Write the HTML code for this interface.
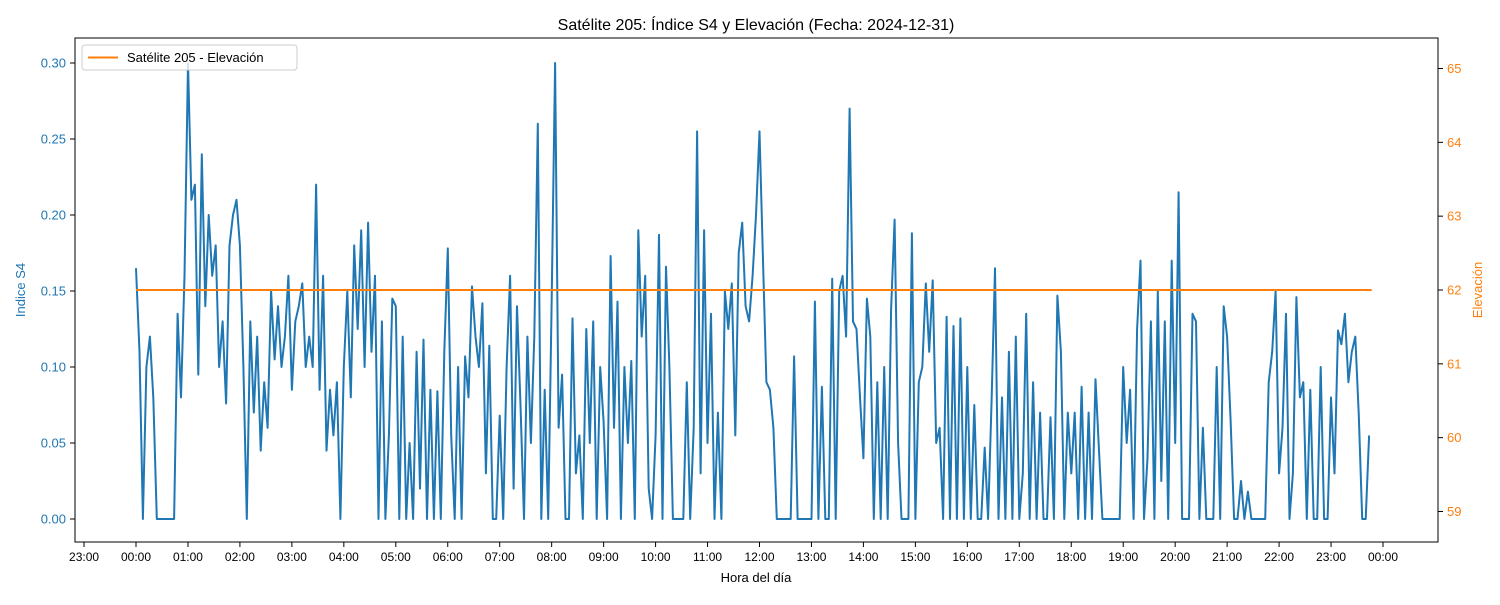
<!DOCTYPE html>
<html><head><meta charset="utf-8"><style>
body{margin:0;background:#fff;}
svg{font-family:"Liberation Sans","DejaVu Sans",sans-serif;}
</style></head><body>
<svg id="chart" width="1500" height="600">
<rect x="0" y="0" width="1500" height="600" fill="#fff"/>
<text x="756" y="30" font-size="16" text-anchor="middle">Satélite 205: Índice S4 y Elevación (Fecha: 2024-12-31)</text>
<text x="756" y="582" font-size="13" text-anchor="middle">Hora del día</text>
<text x="25" y="290" font-size="13" fill="#1f77b4" text-anchor="middle" transform="rotate(-90 25 290)">Indice S4</text>
<text x="1482" y="290" font-size="13" fill="#ff7f0e" text-anchor="middle" transform="rotate(-90 1482 290)">Elevación</text>
<g id="xticks"></g><g id="yl"></g><g id="yr"></g>
<g id="series"></g>
<rect x="75" y="38" width="1363" height="504" fill="none" stroke="#000" stroke-width="1"/>
<g>
<rect x="82" y="45" width="215" height="25" rx="3" fill="#fff" fill-opacity="0.8" stroke="#ccc"/>
<line x1="88" y1="57.5" x2="118" y2="57.5" stroke="#ff7f0e" stroke-width="2"/>
<text x="127" y="62" font-size="13">Satélite 205 - Elevación</text>
</g>
</svg>
<script>
const s4Values = [
0.165,0.11,0,0.1,0.12,0.08,0,0,0,0,0,0,0.135,0.08,0.16,
0.3,0.21,0.22,0.095,0.24,0.14,0.2,0.16,0.18,0.1,0.13,0.076,0.18,0.2,0.21,
0.18,0.1,0,0.13,0.07,0.12,0.045,0.09,0.06,0.15,0.105,0.14,0.1,0.12,0.16,
0.085,0.13,0.14,0.155,0.1,0.12,0.1,0.22,0.085,0.16,0.045,0.085,0.055,0.09,0,
0.1,0.15,0.08,0.18,0.125,0.19,0.1,0.195,0.11,0.16,0,0.13,0,0.055,0.145,
0.14,0,0.12,0,0.05,0,0.11,0.02,0.118,0,0.085,0,0.084,0,0.11,
0.178,0.055,0,0.1,0,0.107,0.08,0.153,0.12,0.1,0.142,0.03,0.114,0,0,
0.068,0,0.1,0.16,0.02,0.14,0.075,0,0.12,0.05,0.12,0.26,0,0.085,0,
0.145,0.3,0.06,0.095,0,0,0.132,0.03,0.055,0,0.125,0.05,0.13,0,0.1,
0.064,0,0.173,0.06,0.143,0,0.1,0.05,0.104,0,0.19,0.12,0.16,0.02,0,
0.055,0.187,0,0.166,0.1,0,0,0,0,0.09,0,0.06,0.255,0.03,0.19,
0.05,0.135,0,0.07,0,0.15,0.125,0.155,0.055,0.175,0.195,0.14,0.13,0.16,0.2,
0.255,0.17,0.09,0.085,0.06,0,0,0,0,0,0.107,0,0,0,0,
0,0.143,0,0.087,0,0,0.158,0,0.15,0.16,0.12,0.27,0.13,0.125,0.08,
0.04,0.145,0.12,0,0.09,0,0.1,0,0.138,0.197,0.05,0,0,0,0.188,
0,0.09,0.1,0.155,0.11,0.157,0.05,0.06,0,0.133,0,0.127,0,0.132,0,
0.1,0,0.075,0,0,0.047,0,0.078,0.165,0,0.08,0,0.11,0,0.12,
0,0.03,0.135,0,0.09,0,0.07,0,0,0.067,0,0.147,0.11,0,0.07,
0.03,0.07,0,0.087,0,0.07,0,0.092,0.045,0,0,0,0,0,0,
0.1,0.05,0.085,0,0.125,0.17,0,0.04,0.13,0,0.15,0.025,0.13,0,0.17,
0.05,0.215,0,0,0,0.135,0.13,0,0.06,0,0,0,0.1,0,0.14,
0.12,0.065,0,0,0.025,0,0.018,0,0,0,0,0,0.09,0.11,0.15,
0.03,0.06,0.135,0,0.03,0.146,0.08,0.09,0,0.085,0,0,0.1,0,0,
0.08,0.03,0.124,0.115,0.135,0.09,0.11,0.12,0.068,0,0,0.055
];
const stepMinutes = 4;
const elevationValues = [62, 62];
const elevationMinutes = [0, 1427];
const xTickLabels = ["23:00","00:00","01:00","02:00","03:00","04:00","05:00","06:00","07:00","08:00","09:00","10:00","11:00","12:00","13:00","14:00","15:00","16:00","17:00","18:00","19:00","20:00","21:00","22:00","23:00","00:00"];
const xTickMinutes = [-60,0,60,120,180,240,300,360,420,480,540,600,660,720,780,840,900,960,1020,1080,1140,1200,1260,1320,1380,1440];
const leftTicks = [0,0.05,0.10,0.15,0.20,0.25,0.30];
const rightTicks = [59,60,61,62,63,64,65];

const NS="http://www.w3.org/2000/svg";
const xS = m => 136 + m*(1247/1440);
const yL = v => 519 - v*1520;
const yR = v => 290 - (v-62)*73.83;
function mk(tag, attrs, parent){const e=document.createElementNS(NS,tag);for(const k in attrs)e.setAttribute(k,attrs[k]);parent.appendChild(e);return e;}

const gx=document.getElementById('xticks');
xTickMinutes.forEach((m,i)=>{
  const x=xS(m);
  const t=mk('line',{x1:x,x2:x,y1:542,y2:547,stroke:'#000'},gx);
  
  
  const l=mk('text',{x:x,y:561,'font-size':12,'text-anchor':'middle'},gx);
  l.textContent=xTickLabels[i];
  
  
});
const gl=document.getElementById('yl');
leftTicks.forEach(v=>{
  const y=yL(v);
  const t=mk('line',{x1:70,x2:75,y1:y,y2:y,stroke:'#000'},gl);
  
  
  const l=mk('text',{x:66,y:y+4.5,'font-size':13,'text-anchor':'end',fill:'#1f77b4'},gl);
  l.textContent=v.toFixed(2);
  
  
});
const gr=document.getElementById('yr');
rightTicks.forEach(v=>{
  const y=yR(v);
  const t=mk('line',{x1:1438,x2:1443,y1:y,y2:y,stroke:'#000'},gr);
  
  
  const l=mk('text',{x:1447,y:y+4.5,'font-size':13,fill:'#ff7f0e'},gr);
  l.textContent=v;
  
  
});
const gs=document.getElementById('series');
const pts=s4Values.map((v,i)=>xS(i*stepMinutes).toFixed(1)+','+yL(v).toFixed(1)).join(' ');
const s4=mk('polyline',{points:pts,fill:'none',stroke:'#1f77b4','stroke-width':2,'stroke-linejoin':'round'},gs);


const ep=elevationValues.map((v,i)=>xS(elevationMinutes[i])+','+yR(v)).join(' ');
const el=mk('polyline',{points:ep,fill:'none',stroke:'#ff7f0e','stroke-width':2},gs);


</script>
</body></html>
